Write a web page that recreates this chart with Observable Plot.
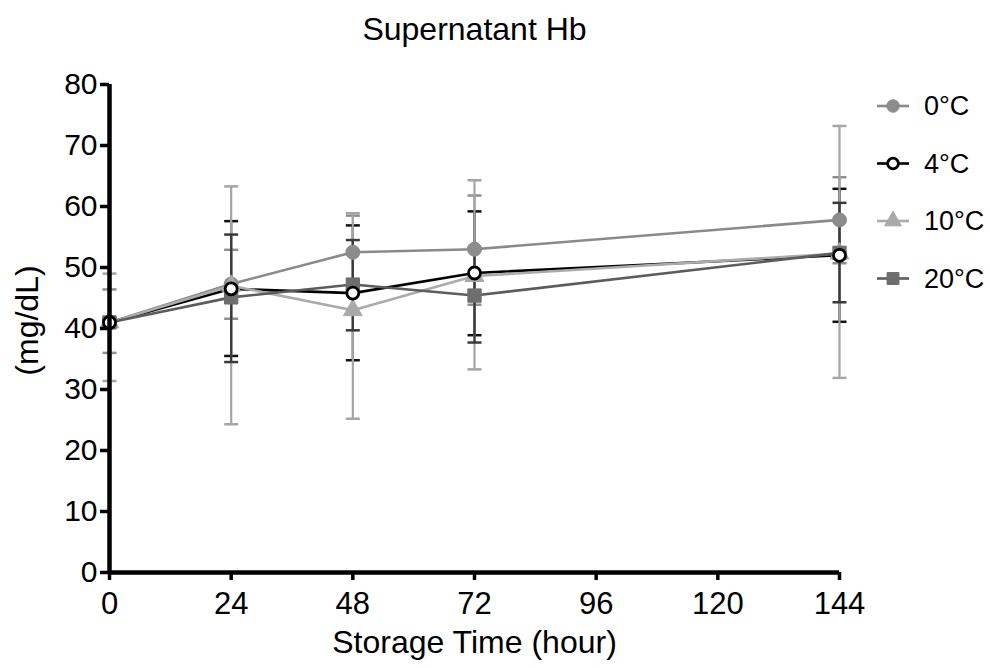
<!DOCTYPE html>
<html>
<head>
<meta charset="utf-8">
<script src="https://cdn.jsdelivr.net/npm/d3@7"></script>
<script src="https://cdn.jsdelivr.net/npm/@observablehq/plot@0.6"></script>
<style>
  html, body { margin: 0; padding: 0; background: #fff; }
  #wrap { position: relative; width: 990px; height: 668px; font-family: "Liberation Sans", Arial, sans-serif; }
  #legend { position: absolute; left: 0; top: 0; }
</style>
</head>
<body>
<div id="wrap"></div>
<script>
// ---- data ----
const hours = [0, 24, 48, 72, 144];
const seriesNames = ["0°C", "4°C", "10°C", "20°C"];
const yTicks = [0, 10, 20, 30, 40, 50, 60, 70, 80];
const xTicks = [0, 24, 48, 72, 96, 120, 144];

const mean0  = [41.0, 47.3, 52.5, 53.0, 57.8];
const low0   = [36.0, 41.6, 46.5, 43.9, 50.7];
const high0  = [46.4, 52.9, 58.5, 61.8, 64.8];

const mean4  = [41.0, 46.5, 45.8, 49.1, 52.0];
const low4   = [40.4, 35.5, 34.8, 38.9, 41.1];
const high4  = [41.6, 57.6, 56.9, 59.2, 62.9];

const mean10 = [41.0, 47.0, 43.0, 48.6, 52.3];
const low10  = [31.4, 24.3, 25.2, 33.3, 31.9];
const high10 = [49.0, 63.3, 58.9, 64.3, 73.2];

const mean20 = [41.0, 45.1, 47.2, 45.4, 52.4];
const low20  = [40.4, 34.5, 39.7, 37.7, 44.3];
const high20 = [41.6, 55.4, 54.5, 53.2, 60.6];

// ---- styles ----
const styles = {
  "0°C":  {line: "#8a8a8a", err: "#8f8f8f", fill: "#8c8c8c", stroke: "#8c8c8c", symbol: "circle", r: 7},
  "4°C":  {line: "#000000", err: "#111111", fill: "#ffffff", stroke: "#000000", symbol: "circle", r: 6},
  "10°C": {line: "#ababab", err: "#a5a5a5", fill: "#a9a9a9", stroke: "#a9a9a9", symbol: "triangle", r: 7},
  "20°C": {line: "#5c5c5c", err: "#3a3a3a", fill: "#6e6e6e", stroke: "#6e6e6e", symbol: "square", r: 7.5}
};

const means = [mean0, mean4, mean10, mean20];
const lows = [low0, low4, low10, low20];
const highs = [high0, high4, high10, high20];

const rows = [];
seriesNames.forEach((s, i) => {
  hours.forEach((h, j) => {
    rows.push({series: s, hour: h, mean: means[i][j], low: lows[i][j], high: highs[i][j]});
  });
});

const capSymbol = {
  draw(context) { context.moveTo(-7, 0); context.lineTo(7, 0); }
};

const font = "Liberation Sans, Arial, sans-serif";
const marks = [];

// error bars (per series, drawn first)
for (const s of seriesNames) {
  const d = rows.filter(r => r.series === s);
  const st = styles[s];
  marks.push(Plot.ruleX(d, {x: "hour", y1: "low", y2: "high", stroke: st.err, strokeWidth: 2.2}));
  marks.push(Plot.dot(d, {x: "hour", y: "low", symbol: capSymbol, stroke: st.err, strokeWidth: 2.5}));
  marks.push(Plot.dot(d, {x: "hour", y: "high", symbol: capSymbol, stroke: st.err, strokeWidth: 2.5}));
}
// lines
for (const s of seriesNames) {
  const d = rows.filter(r => r.series === s);
  const st = styles[s];
  marks.push(Plot.line(d, {x: "hour", y: "mean", stroke: st.line, strokeWidth: 2.6}));
}
// markers
for (const s of ["0°C", "10°C", "20°C", "4°C"]) {
  const d = rows.filter(r => r.series === s);
  const st = styles[s];
  marks.push(Plot.dot(d, {x: "hour", y: "mean", symbol: st.symbol, r: st.r, fill: st.fill, stroke: st.stroke, strokeWidth: s === "4°C" ? 2.8 : 1}));
}

// axes
marks.push(Plot.axisY({ticks: yTicks, tickSize: 9, tickPadding: 3, strokeWidth: 3.5, fontSize: 30, fill: "#000", label: null}));
marks.push(Plot.axisX({ticks: xTicks, tickSize: 8, tickPadding: 11, strokeWidth: 3.5, fontSize: 31, fill: "#000", label: null}));
marks.push(Plot.ruleX([0], {stroke: "#000", strokeWidth: 4.5}));
marks.push(Plot.ruleY([0], {stroke: "#000", strokeWidth: 4.5}));

// texts
marks.push(Plot.text(["Supernatant Hb"], {frameAnchor: "top", dy: -67, fontSize: 32, fill: "#000"}));
marks.push(Plot.text(["Storage Time (hour)"], {frameAnchor: "bottom", dy: 80, fontSize: 32, fill: "#000"}));
marks.push(Plot.text(["(mg/dL)"], {frameAnchor: "left", textAnchor: "middle", dx: -82, dy: -8, rotate: -90, fontSize: 32, fill: "#000"}));

const chart = Plot.plot({
  width: 990,
  height: 668,
  marginLeft: 109,
  marginRight: 151,
  marginTop: 84,
  marginBottom: 96,
  style: {fontFamily: font, background: "#fff", overflow: "visible"},
  x: {domain: [0, 144]},
  y: {domain: [0, 80]},
  marks
});
document.getElementById("wrap").appendChild(chart);

// legend overlay
const legendY0 = 106, legendStep = 57.5;
const lg = d3.select("#wrap").append("svg")
  .attr("id", "legend").attr("width", 990).attr("height", 668);
seriesNames.forEach((s, i) => {
  const st = styles[s];
  const g = lg.append("g").attr("transform", `translate(893,${legendY0 + i * legendStep})`);
  g.append("line").attr("x1", -16).attr("x2", 16).attr("stroke", st.line).attr("stroke-width", 2.6);
  const sym = {circle: d3.symbolCircle, triangle: d3.symbolTriangle, square: d3.symbolSquare}[st.symbol];
  g.append("path").attr("d", d3.symbol(sym, Math.PI * st.r * st.r * 0.8)())
    .attr("fill", st.fill).attr("stroke", st.stroke).attr("stroke-width", s === "4°C" ? 2.8 : 1);
  lg.append("text").attr("x", 924).attr("y", legendY0 + i * legendStep)
    .attr("dy", "0.35em").attr("font-size", 27).attr("font-family", font).attr("fill", "#000").text(s);
});
</script>
</body>
</html>
